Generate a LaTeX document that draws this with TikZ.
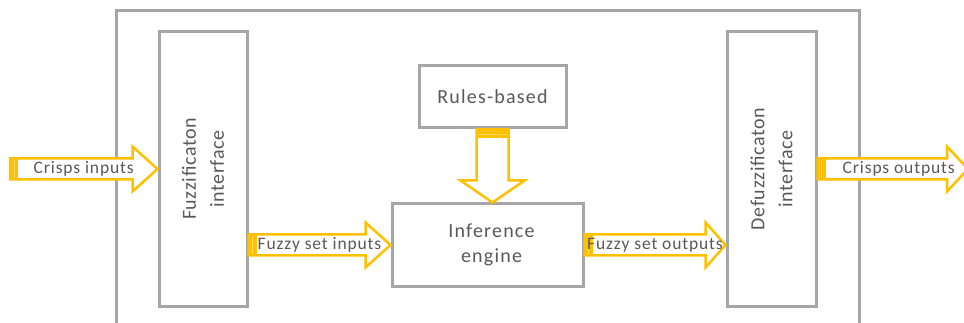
\documentclass[tikz,border=0pt]{standalone}
\usepackage{fontspec}
\setmainfont{Carlito}
\newfontfamily\arrowfont[LetterSpace=5]{Carlito}
\newfontfamily\boxfont[LetterSpace=6]{Carlito}
\newfontfamily\sidefont[LetterSpace=3]{Carlito}
\usetikzlibrary{calc}
\definecolor{boxgray}{HTML}{A6A6A6}
\definecolor{amber}{HTML}{FFC000}
\definecolor{amberlight}{HTML}{FFD966}
\definecolor{txt}{HTML}{595959}
\newcommand\bodyh{10.5}
\newcommand\headh{22.5}
% horizontal block arrow: #1 tail, #2 tip, #3 head length
\newcommand\fatright[3]{%
  \draw[fatarrow] ($(#1)+(0,-\bodyh)$) -- ($(#2)+(-#3,-\bodyh)$) -- ($(#2)+(-#3,-\headh)$)
    -- (#2) -- ($(#2)+(-#3,\headh)$) -- ($(#2)+(-#3,\bodyh)$) -- ($(#1)+(0,\bodyh)$) -- cycle;
  \fill[amber] ($(#1)+(0,-\bodyh)$) rectangle ($(#1)+(8,\bodyh)$);
  \draw[amberlight, line width=1pt] ($(#1)+(4,-\bodyh+1.5)$) -- ($(#1)+(4,\bodyh-1.5)$);
}
\begin{document}
\begin{tikzpicture}[x=1pt, y=-1pt,
  box/.style={draw=boxgray, line width=3pt, fill=white, inner sep=0pt},
  fatarrow/.style={draw=amber, line width=2.5pt, fill=white, line join=miter},
  lbl/.style={text=txt, font=\arrowfont\fontsize{17.5}{20}\selectfont, inner sep=0pt},
  blbl/.style={text=txt, font=\boxfont\fontsize{20}{25}\selectfont, align=center, inner sep=0pt},
  vlbl/.style={text=txt, font=\sidefont\fontsize{20}{28}\selectfont, align=center, rotate=90}]
  \useasboundingbox (0,0) rectangle (964,323);
  % outer frame, open at the bottom edge
  \draw[boxgray, line width=3pt] (116,340) -- (116,11) -- (859,11) -- (859,340);

  \node[box, minimum width=88pt, minimum height=274pt] (fuzz) at (203,169) {};
  \node[vlbl] at (fuzz.center) {Fuzzificaton\\interface};
  \node[box, minimum width=89pt, minimum height=274pt] (defuzz) at (771.5,169) {};
  \node[vlbl] at (defuzz.center) {Defuzzificaton\\interface};
  \node[box, minimum width=147pt, minimum height=62pt] (rules) at (492.5,97) {};
  \node[blbl] at (rules.center) {Rules-based};
  \node[box, minimum width=191pt, minimum height=82pt] (inf) at (487.5,245) {};
  \node[blbl] at ($(inf.center)+(4,0)$) {Inference\\engine};

  \coordinate (cin) at (10,169);
  \coordinate (cout) at (968,169);

  % crisp inputs
  \fatright{cin}{fuzz.west |- cin}{25}
  \node[lbl] at ($(cin)!0.5!(fuzz.west |- cin)$) {Crisps inputs};
  % fuzzy set inputs
  \fatright{fuzz.east |- inf.west}{inf.west}{25}
  \node[lbl] at ($(fuzz.east |- inf.west)!0.5!(inf.west)$) {Fuzzy set inputs};
  % fuzzy set outputs
  \fatright{inf.east}{defuzz.west |- inf.east}{20}
  \node[lbl] at ($(inf.east)!0.5!(defuzz.west |- inf.east)$) {Fuzzy set outputs};
  % crisp outputs
  \fatright{defuzz.east |- cout}{cout}{21}
  \node[lbl] at ($(defuzz.east |- cout)!0.5!(cout)+(6,0)$) {Crisps outputs};

  % rules feed the inference engine
  \coordinate (rtail) at (rules.south);
  \coordinate (rtip) at (rules.south |- inf.north);
  \draw[fatarrow] ($(rtail)+(-16,0)$) -- ($(rtip)+(-16,-22)$) -- ($(rtip)+(-32,-22)$) -- (rtip)
    -- ($(rtip)+(32,-22)$) -- ($(rtip)+(16,-22)$) -- ($(rtail)+(16,0)$) -- cycle;
  \fill[amber] ($(rtail)+(-16,0)$) rectangle ($(rtail)+(16,9)$);
  \draw[amberlight, line width=1pt] ($(rtail)+(-14.5,5)$) -- ($(rtail)+(14.5,5)$);
\end{tikzpicture}
\end{document}
